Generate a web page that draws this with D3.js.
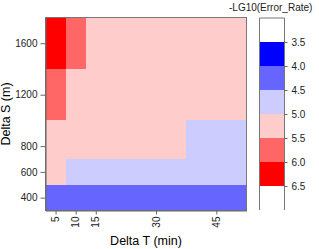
<!DOCTYPE html>
<html>
<head>
<meta charset="utf-8">
<script src="https://cdn.jsdelivr.net/npm/d3@7.9.0/dist/d3.min.js"></script>
<style>
  body { margin: 0; background: #fff; }
  svg { display: block; font-family: "Liberation Sans", Arial, sans-serif; }
  .axis text, .xlab { font-size: 10px; fill: #222; }
  .axis path, .axis line { stroke: #666; }
</style>
</head>
<body>
<svg width="319" height="249"></svg>
<script>
const deltaT = [5, 10, 15, 30, 45];
const deltaS = [400, 600, 800, 1200, 1600];
// -LG10(Error_Rate), one array per Delta S row
const lg400 = [4.2, 4.2, 4.3, 4.3, 4.3];
const lg600 = [5.1, 4.8, 4.7, 4.7, 4.6];
const lg800 = [5.4, 5.3, 5.2, 5.1, 4.9];
const lg1200 = [5.7, 5.4, 5.3, 5.3, 5.2];
const lg1600 = [6.2, 5.8, 5.4, 5.4, 5.3];
const levels = [3.5, 4.0, 4.5, 5.0, 5.5, 6.0, 6.5];
const levelColors = ['#ffffff', '#0000ff', '#6666ff', '#ccccff', '#ffcccc', '#ff6666', '#ff0000', '#ffffff'];

const rows = [lg400, lg600, lg800, lg1200, lg1600];
const svg = d3.select('svg');

const x = d3.scaleLinear().domain([2.5, 52.5]).range([45.5, 246.5]);
const y = d3.scaleLinear().domain([300, 1800]).range([210.5, 17.5]);
const color = d3.scaleThreshold().domain(levels).range(levelColors);

// cell edges: half way between neighbouring grid values
function edges(v, first, last) {
  let e = [first];
  for (let i = 1; i < v.length; i++) e.push((v[i - 1] + v[i]) / 2);
  e.push(last);
  return e;
}
const xe = edges(deltaT, 2.5, 52.5);
const ye = edges(deltaS, 300, 1800);

let cells = [];
rows.forEach((r, j) => {
  r.forEach((v, i) => {
    cells.push({ x0: xe[i], x1: xe[i + 1], y0: ye[j], y1: ye[j + 1], v: v });
  });
});

svg.append('g')
  .selectAll('rect')
  .data(cells)
  .join('rect')
  .attr('x', (d) => x(d.x0))
  .attr('y', (d) => y(d.y1))
  .attr('width', (d) => x(d.x1) - x(d.x0))
  .attr('height', (d) => y(d.y0) - y(d.y1))
  .attr('fill', (d) => color(d.v))
  .attr('shape-rendering', 'crispEdges');

// frame
svg.append('rect')
  .attr('x', x(2.5)).attr('y', y(1800))
  .attr('width', x(52.5) - x(2.5)).attr('height', y(300) - y(1800))
  .attr('fill', 'none').attr('stroke', '#777');

svg.append('g')
  .attr('class', 'axis')
  .attr('transform', `translate(${x(2.5)},0)`)
  .call(d3.axisLeft(y).tickValues(deltaS).tickFormat(d3.format('d')).tickSize(5).tickSizeOuter(0).tickPadding(3));

let xa = svg.append('g')
  .attr('class', 'axis')
  .attr('transform', `translate(0,${y(300)})`)
  .call(d3.axisBottom(x).tickValues(deltaT).tickSize(4).tickSizeOuter(0).tickFormat(''));

// rotated x tick labels, reading bottom to top
svg.append('g')
  .selectAll('text')
  .data(deltaT)
  .join('text')
  .attr('class', 'xlab')
  .attr('transform', (d) => `translate(${x(d)},${y(300) + 6}) rotate(-90)`)
  .attr('text-anchor', 'end')
  .attr('dy', '0.35em')
  .text((d) => d);

svg.append('text')
  .attr('x', (x(2.5) + x(52.5)) / 2)
  .attr('y', 245)
  .attr('text-anchor', 'middle')
  .attr('font-size', '12.5px')
  .text('Delta T (min)');

svg.append('text')
  .attr('transform', `translate(10,${(y(300) + y(1800)) / 2}) rotate(-90)`)
  .attr('text-anchor', 'middle')
  .attr('font-size', '12.5px')
  .text('Delta S (m)');

// colour bar
const cb = d3.scaleLinear().domain([3, 7]).range([18, 210]);
const bands = [3].concat(levels).concat([7]);
const cbX = 259.5, cbW = 25;
svg.append('g')
  .selectAll('rect')
  .data(d3.pairs(bands))
  .join('rect')
  .attr('x', cbX)
  .attr('y', (d) => cb(d[0]))
  .attr('width', cbW)
  .attr('height', (d) => cb(d[1]) - cb(d[0]))
  .attr('fill', (d) => color((d[0] + d[1]) / 2))
  .attr('shape-rendering', 'crispEdges');

svg.append('path')
  .attr('d', `M${cbX},${cb(7)}V${cb(3)}H${cbX + cbW}V${cb(7)}`)
  .attr('fill', 'none')
  .attr('stroke', '#777');

let ca = svg.append('g')
  .attr('class', 'axis')
  .attr('transform', `translate(${cbX + cbW},0)`)
  .call(d3.axisRight(cb).tickValues(levels).tickFormat(d3.format('.1f')).tickSize(3).tickSizeOuter(0).tickPadding(4));
ca.select('.domain').remove();

svg.append('text')
  .attr('x', 229)
  .attr('y', 11)
  .attr('font-size', '10px')
  .attr('fill', '#222')
  .text('-LG10(Error_Rate)');
</script>
</body>
</html>
